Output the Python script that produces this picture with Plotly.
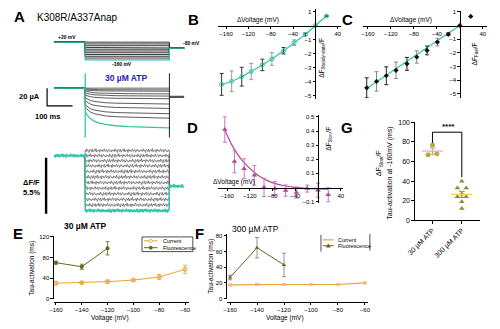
import plotly.graph_objects as go

# ================= DATA =================
# Panel A: voltage protocol (mV)
STEP_MV = [20, 2, -16, -34, -52, -70, -88, -106, -124, -142, -160]
PRE_MV = 20
TAIL_MV = -40
T_STEP_ON = 123    # ms
T_STEP_OFF = 454   # ms
T_END = 512        # ms

# Panel A: currents (uA)
I_START = [0, -1, -2, -3.5, -5.5, -8, -11, -14.5, -19, -22, -27]
I_END = [0, -2, -3.5, -6.5, -9, -12, -18, -23, -29, -34, -45]
I_TAIL = -10
I_CAP = [17, -56]
ACT_T = [0, 10, 20, 35, 55, 80, 120, 170, 230, 290, 331]
ACT_FRAC = [0, 0.25, 0.42, 0.58, 0.70, 0.79, 0.87, 0.92, 0.96, 0.985, 1.0]

# Panel A: fluorescence (dF/F, %)
F_STEP = [0.5, 0.0, -0.5, -1.0, -1.55, -2.1, -2.65, -3.2, -3.75, -4.3, -4.85, -5.4]
F_TAIL = -3.0
F_NOISE = [0.3, -0.5, 0.8, -0.2, 0.1, -0.9, 0.6, 0.2, -0.4, 0.7, -0.7, 0.0, 0.5,
           -0.3, 0.9, -0.6, 0.2, -0.1, 0.4, -0.8, 0.6, -0.2, 0.3, -0.5, 0.1, 0.8,
           -0.4, -0.1, 0.5, -0.7, 0.2, 0.6, -0.3, 0.0, -0.6, 0.4, -0.2]
SCALE_I = 20     # uA
SCALE_T = 100    # ms
SCALE_F = 5.5    # %

# Panel B: dF steady-state
B_DV = [-168, -150, -132, -115, -95, -78, -57, -38, -18, 0, 20]
B_DF = [-4.2, -3.98, -3.65, -3.28, -2.81, -2.39, -1.80, -1.22, -0.63, 0, 0.68]
B_ERR = [0.78, 0.74, 0.67, 0.58, 0.41, 0.45, 0.23, 0.2, 0.1, 0, 0]

# Panel C: dF fast
C_DV = [-162, -145, -128, -111, -92, -75, -57, -39, -20, 0, 19]
C_DF = [-4.55, -4.08, -3.67, -3.27, -2.80, -2.30, -1.82, -1.21, -0.64, 0, 0.66]
C_ERR = [0.73, 0.71, 0.65, 0.6, 0.47, 0.45, 0.32, 0.28, 0.1, 0, 0]
C_FIT_X = [-162, 2]
C_FIT_Y = [-4.6, 0.05]

# Panel D: dF slow
D_DV = [-164, -147, -130, -112, -95, -76, -57, -38, -19, 0, 18]
D_DF = [0.411, 0.184, 0.133, 0.087, 0.001, -0.008, -0.022, -0.036, -0.008, -0.02, -0.052]
D_ERR = [0.09, 0.08, 0.07, 0.07, 0.065, 0.05, 0.04, 0.04, 0.025, 0.05, 0.05]
D_FIT_X = [-164, -150, -135, -120, -105, -90, -75, -60, -40, -20, 0, 18]
D_FIT_Y = [0.41, 0.29, 0.20, 0.135, 0.085, 0.05, 0.027, 0.012, 0.0, -0.007, -0.01, -0.012]

# Panel E: 30 uM ATP
E_V = [-160, -140, -120, -100, -80, -60]
E_CUR = [30, 31, 33, 36, 42, 57]
E_CUR_ERR = [3, 2, 3, 2, 5, 8]
E_FL_V = [-160, -140, -120]
E_FL = [70, 62, 98]
E_FL_ERR = [3, 5, 13]

# Panel F: 300 uM ATP
F_V = [-160, -140, -120, -100, -80, -60]
F_CUR = [17.5, 18, 18, 18, 18, 20]
F_CUR_ERR = [1, 1, 1, 0.5, 0.5, 1]
F_FL_V = [-160, -140, -120]
F_FL = [27, 65, 43]
F_FL_ERR = [3, 13, 15]

# Panel G: tau at -160 mV
G_CATS = ["30 µM ATP", "300 µM ATP"]
G_30 = [77, 67, 68]
G_300 = [40, 33, 33, 27, 24, 24, 19, 12]
G_SIG = "****"

# ================= STYLE / LAYOUT =================
W, H = 500, 329
FONT = "Liberation Sans, Arial, sans-serif"
TEAL = "#2fc7a7"
ORANGE = "#e6a33a"
OLIVE = "#66661f"
MAG = "#b2479c"
G30C = "#b3ae45"
G300C = "#8f8c3c"


def dx(a, b):
    return [a / W, b / W]


def dy(top, bottom):
    return [1 - bottom / H, 1 - top / H]


def fx(x):
    return x / W


def fy(y):
    return 1 - y / H


fig = go.Figure()

# ---------- Panel A: protocol ----------
for i, v in enumerate(STEP_MV):
    col = TEAL if i == len(STEP_MV) - 1 else "#222"
    fig.add_trace(go.Scatter(
        x=[0, T_STEP_ON, T_STEP_ON, T_STEP_OFF, T_STEP_OFF, T_END],
        y=[PRE_MV, PRE_MV, v, v, TAIL_MV, TAIL_MV],
        mode="lines", line=dict(color=col, width=0.9 if col != TEAL else 1.2),
        xaxis="x", yaxis="y", showlegend=False, hoverinfo="skip"))

# ---------- Panel A: currents ----------
n_sw = len(I_START)
for i in range(n_sw):
    t = [0, T_STEP_ON]
    y = [0, 0]
    if i == n_sw - 1:
        t += [T_STEP_ON, T_STEP_ON]
        y += [I_CAP[0], I_CAP[1]]
    for tt, ff in zip(ACT_T, ACT_FRAC):
        t.append(T_STEP_ON + tt)
        y.append(I_START[i] + ff * (I_END[i] - I_START[i]))
    col = TEAL if i == n_sw - 1 else "#333"
    fig.add_trace(go.Scatter(
        x=t, y=y, mode="lines",
        line=dict(color=col, width=1.3 if i == n_sw - 1 else 0.8),
        xaxis="x2", yaxis="y2", showlegend=False, hoverinfo="skip"))
fig.add_trace(go.Scatter(x=[T_STEP_OFF, T_END], y=[I_TAIL, I_TAIL], mode="lines",
                         line=dict(color="#555", width=2.2), xaxis="x2", yaxis="y2",
                         showlegend=False, hoverinfo="skip"))
fig.add_trace(go.Scatter(x=[T_STEP_OFF, T_STEP_OFF], y=[I_CAP[0], I_CAP[1]], mode="lines",
                         line=dict(color="#222", width=1), xaxis="x2", yaxis="y2",
                         showlegend=False, hoverinfo="skip"))
SB_T0 = -27
fig.add_trace(go.Scatter(x=[SB_T0, SB_T0, SB_T0 + SCALE_T], y=[0, -SCALE_I, -SCALE_I],
                         mode="lines", line=dict(color="black", width=1.2),
                         xaxis="x2", yaxis="y2", showlegend=False, hoverinfo="skip"))

# ---------- Panel A: fluorescence ----------
NN = len(F_NOISE)
AMP = 0.22
DT = 3


def noisy(t0, t1, level, k0):
    ts, ys = [], []
    t = t0
    k = k0
    while t <= t1:
        ts.append(t)
        ys.append(level + AMP * F_NOISE[k % NN])
        t += DT
        k += 1
    return ts, ys, k


n_f = len(F_STEP)
for i in range(n_f):
    k0 = 7 * i
    if i < n_f - 1:
        ts, ys, k = noisy(T_STEP_ON, T_STEP_OFF, F_STEP[i], k0)
        ts = [T_STEP_ON] + ts + [T_STEP_OFF, T_STEP_OFF]
        ys = [0] + ys + [F_STEP[i], F_TAIL]
        fig.add_trace(go.Scatter(x=ts, y=ys, mode="lines",
                                 line=dict(color="#5e5e5e", width=0.7),
                                 xaxis="x3", yaxis="y3", showlegend=False, hoverinfo="skip"))
    else:
        t1, y1, k = noisy(0, T_STEP_ON, 0, k0)
        t2, y2, k = noisy(T_STEP_ON, T_STEP_OFF, F_STEP[i], k)
        t3, y3, k = noisy(T_STEP_OFF, T_END, F_TAIL, k)
        fig.add_trace(go.Scatter(x=t1 + [T_STEP_ON] + t2 + [T_STEP_OFF] + t3,
                                 y=y1 + [F_STEP[i]] + y2 + [F_TAIL] + y3, mode="lines",
                                 line=dict(color=TEAL, width=1.5),
                                 xaxis="x3", yaxis="y3", showlegend=False, hoverinfo="skip"))
FSB_T0 = -31
fig.add_trace(go.Scatter(x=[FSB_T0, FSB_T0], y=[-0.2, -0.2 - SCALE_F], mode="lines",
                         line=dict(color="black", width=2.4),
                         xaxis="x3", yaxis="y3", showlegend=False, hoverinfo="skip"))

# ---------- Panel B ----------
fig.add_trace(go.Scatter(x=B_DV, y=B_DF, mode="lines", line=dict(color=TEAL, width=1.2, shape="spline"),
                         xaxis="x4", yaxis="y4", showlegend=False, hoverinfo="skip"))
for par, col in ((0, "#333"), (1, "#999")):
    idx = [j for j in range(len(B_DV)) if j % 2 == par]
    fig.add_trace(go.Scatter(x=[B_DV[j] for j in idx], y=[B_DF[j] for j in idx], mode="markers",
                             marker=dict(symbol="circle-open", size=4, color=TEAL, line=dict(width=1, color=TEAL)),
                             error_y=dict(type="data", array=[B_ERR[j] for j in idx], color=col,
                                          thickness=1, width=2),
                             xaxis="x4", yaxis="y4", showlegend=False, hoverinfo="skip"))

# ---------- Panel C ----------
fig.add_trace(go.Scatter(x=C_FIT_X, y=C_FIT_Y, mode="lines", line=dict(color=TEAL, width=1.3),
                         xaxis="x5", yaxis="y5", showlegend=False, hoverinfo="skip"))
for par, col in ((0, "#222"), (1, "#888")):
    idx = [j for j in range(len(C_DV)) if j % 2 == par]
    fig.add_trace(go.Scatter(x=[C_DV[j] for j in idx], y=[C_DF[j] for j in idx], mode="markers",
                             marker=dict(symbol="diamond", size=4, color="#111"),
                             error_y=dict(type="data", array=[C_ERR[j] for j in idx], color=col,
                                          thickness=1, width=2),
                             xaxis="x5", yaxis="y5", showlegend=False, hoverinfo="skip"))

# ---------- Panel D ----------
fig.add_trace(go.Scatter(x=D_FIT_X, y=D_FIT_Y, mode="lines", line=dict(color=MAG, width=1.2, shape="spline"),
                         xaxis="x6", yaxis="y6", showlegend=False, hoverinfo="skip"))
fig.add_trace(go.Scatter(x=D_DV, y=D_DF, mode="markers",
                         marker=dict(symbol="triangle-up", size=5, color=MAG),
                         error_y=dict(type="data", array=D_ERR, color="#c978b8", thickness=1, width=2),
                         xaxis="x6", yaxis="y6", showlegend=False, hoverinfo="skip"))

# ---------- Panel G ----------
J30 = [0, -0.15, 0.15]
J300 = [0, -0.15, 0.15, 0, -0.15, 0.15, 0, 0]
fig.add_trace(go.Scatter(x=[0 + j for j in J30], y=G_30, mode="markers",
                         marker=dict(symbol="circle", size=5, color=G30C),
                         xaxis="x7", yaxis="y7", showlegend=False, hoverinfo="skip"))
fig.add_trace(go.Scatter(x=[1 + j for j in J300], y=G_300, mode="markers",
                         marker=dict(symbol="triangle-up", size=5, color=G300C),
                         xaxis="x7", yaxis="y7", showlegend=False, hoverinfo="skip"))
for xi, vals, col in ((0, G_30, G30C), (1, G_300, G300C)):
    m = sum(vals) / len(vals)
    sd = (sum((v - m) ** 2 for v in vals) / (len(vals) - 1)) ** 0.5
    sem = sd / len(vals) ** 0.5
    fig.add_trace(go.Scatter(x=[xi], y=[m], mode="markers",
                             marker=dict(symbol="line-ew-open", size=15, line=dict(width=1.3, color=col)),
                             error_y=dict(type="data", array=[sem], color=col, thickness=1, width=3),
                             xaxis="x7", yaxis="y7", showlegend=False, hoverinfo="skip"))

# ---------- Panel E ----------
fig.add_trace(go.Scatter(x=E_V, y=E_CUR, mode="lines+markers",
                         line=dict(color=ORANGE, width=1),
                         marker=dict(symbol="circle-open", size=4, color=ORANGE, line=dict(width=1, color=ORANGE)),
                         error_y=dict(type="data", array=E_CUR_ERR, color=ORANGE, thickness=0.8, width=2),
                         xaxis="x8", yaxis="y8", showlegend=False, hoverinfo="skip"))
fig.add_trace(go.Scatter(x=E_FL_V, y=E_FL, mode="lines+markers",
                         line=dict(color=OLIVE, width=1),
                         marker=dict(symbol="circle", size=4, color=OLIVE),
                         error_y=dict(type="data", array=E_FL_ERR, color=OLIVE, thickness=0.8, width=2),
                         xaxis="x8", yaxis="y8", showlegend=False, hoverinfo="skip"))

# ---------- Panel F ----------
fig.add_trace(go.Scatter(x=F_V, y=F_CUR, mode="lines+markers",
                         line=dict(color=ORANGE, width=1.2),
                         marker=dict(symbol="square", size=3, color="#f0c070"),
                         error_y=dict(type="data", array=F_CUR_ERR, color=ORANGE, thickness=0.8, width=2),
                         xaxis="x9", yaxis="y9", showlegend=False, hoverinfo="skip"))
fig.add_trace(go.Scatter(x=F_FL_V, y=F_FL, mode="lines+markers",
                         line=dict(color=OLIVE, width=1),
                         marker=dict(symbol="triangle-up", size=4, color=OLIVE),
                         error_y=dict(type="data", array=F_FL_ERR, color="#777", thickness=0.8, width=2),
                         xaxis="x9", yaxis="y9", showlegend=False, hoverinfo="skip"))

# ================= AXES =================
TF = dict(size=6, family=FONT, color="black")
AXL = dict(showline=True, linecolor="black", linewidth=1, showgrid=False, zeroline=False,
           ticks="outside", ticklen=2.5, tickwidth=1, tickcolor="black", tickfont=TF)
HID = dict(visible=False, showgrid=False, zeroline=False)

layout = dict(
    width=W, height=H, margin=dict(l=0, r=0, t=0, b=0), autosize=False,
    paper_bgcolor="white", plot_bgcolor="rgba(0,0,0,0)",
    font=dict(family=FONT, color="black"),
    showlegend=False,
    xaxis=dict(domain=dx(0, 185), range=[-180.8, 530.8], anchor="y", **HID),
    yaxis=dict(domain=dy(30, 62), range=[-210, 110], anchor="x", **HID),
    xaxis2=dict(domain=dx(0, 185), range=[-180.8, 530.8], anchor="y2", **HID),
    yaxis2=dict(domain=dy(66, 140), range=[-60, 22.2], anchor="x2", **HID),
    xaxis3=dict(domain=dx(0, 185), range=[-180.8, 530.8], anchor="y3", **HID),
    yaxis3=dict(domain=dy(145, 218), range=[-6.06, 0.96], anchor="x3", **HID),
    xaxis4=dict(domain=dx(215, 340), range=[-174, 45], anchor="free", position=fy(22),
                tickvals=[-160, -120, -80, -40, 40], **AXL),
    yaxis4=dict(domain=dy(5, 97), range=[-5.24, 1.19], anchor="free", position=fx(314),
                tickvals=[1, -1, -2, -3, -4, -5], **AXL),
    xaxis5=dict(domain=dx(363, 490), range=[-168.5, 47.7], anchor="free", position=fy(22),
                tickvals=[-160, -120, -80, -40, 40], **AXL),
    yaxis5=dict(domain=dy(7, 96), range=[-5.29, 1.07], anchor="free", position=fx(462),
                tickvals=[1, -1, -2, -3, -4, -5], **AXL),
    xaxis6=dict(domain=dx(215, 343), range=[-175.5, 44.7], anchor="free", position=fy(187.5),
                tickvals=[-160, -120, -80, -40, 40], **AXL),
    yaxis6=dict(domain=dy(113, 203), range=[-0.108, 0.517], anchor="free", position=fx(317),
                tickvals=[0.5, 0.4, 0.3, 0.2, 0.1, -0.1], **AXL),
    xaxis7=dict(domain=dx(416, 483), range=[-0.6, 1.633], anchor="y7",
                tickvals=[0, 1], ticktext=G_CATS, tickangle=-45, **AXL),
    yaxis7=dict(domain=dy(121, 221), range=[0, 100], anchor="x7",
                tickvals=[0, 20, 40, 60, 80, 100], **AXL),
    xaxis8=dict(domain=dx(47, 185), range=[-161.5, -57], anchor="free", position=fy(304),
                tickvals=E_V, **AXL),
    yaxis8=dict(domain=dy(237, 301), range=[0, 122], anchor="x8",
                tickvals=[0, 40, 80, 120], **AXL),
    xaxis9=dict(domain=dx(224, 368), range=[-162.2, -57.8], anchor="free", position=fy(304),
                tickvals=F_V, **AXL),
    yaxis9=dict(domain=dy(235, 301), range=[0, 82.5], anchor="x9",
                tickvals=[0, 20, 40, 60, 80], **AXL),
)
layout["xaxis7"]["tickfont"] = dict(size=7, family=FONT, color="black")
layout["yaxis7"]["tickfont"] = dict(size=7, family=FONT, color="black")
for k in ("xaxis8", "xaxis9"):
    layout[k]["ticklen"] = 2
fig.update_layout(**layout)


# ================= TEXT =================
def txt(x, y, s, size=7, color="black", xanchor="center", angle=0):
    return dict(x=fx(x), y=fy(y), xref="paper", yref="paper", text=s, showarrow=False,
                font=dict(size=size, color=color, family=FONT), xanchor=xanchor,
                yanchor="middle", textangle=angle)


ann = [
    txt(4, 13, "<b>A</b>", 15, xanchor="left"),
    txt(28, 14, "K308R/A337Anap", 10, xanchor="left"),
    txt(60, 34, "<b>+20 mV</b>", 5),
    txt(177, 40, "<b>-80 mV</b>", 5, xanchor="left"),
    txt(117, 61, "<b>-160 mV</b>", 5),
    txt(121, 76, "<b>30 µM ATP</b>", 8.5, color="#2323b8"),
    txt(22, 94, "<b>20 µA</b>", 7.5),
    txt(40, 115, "<b>100 ms</b>", 7.5),
    txt(24, 182, "<b>ΔF/F</b>", 7.5),
    txt(24, 193, "<b>5.5%</b>", 7.5),
    txt(190, 16, "<b>B</b>", 15),
    txt(347, 16, "<b>C</b>", 15),
    txt(189, 126, "<b>D</b>", 15),
    txt(347, 126, "<b>G</b>", 15),
    txt(10, 234, "<b>E</b>", 15),
    txt(196, 234, "<b>F</b>", 15),
    txt(256, 16, "ΔVoltage (mV)", 6.5),
    txt(412, 16, "ΔVoltage (mV)", 6.5),
    txt(231, 182, "ΔVoltage (mV)", 6.5),
    txt(321, 55, "ΔF<sub>Steady-state</sub>/F", 6.5, angle=-90),
    txt(477, 51, "ΔF<sub>Fast</sub>/F", 6.5, angle=-90),
    txt(328, 138, "ΔF<sub>Slow</sub>/F", 6.5, angle=-90),
    txt(379, 163, "ΔF<sub>Slow</sub>/F", 7, angle=-90),
    txt(391, 173, "Tau-activation at -160mV (ms)", 7, angle=-90),
    txt(450, 125, "<b>****</b>", 8),
    txt(79, 227, "<b>30 µM ATP</b>", 8.5),
    txt(253, 230, "300 µM ATP", 8.5),
    txt(25, 270, "Tau-activation (ms)", 6.5, angle=-90),
    txt(208, 268, "Tau-activation (ms)", 6.5, angle=-90),
    txt(104, 321, "Voltage (mV)", 6.5),
    txt(283, 321, "Voltage (mV)", 6.5),
    txt(156, 242, "Current", 5.5, xanchor="left"),
    txt(156, 249, "Fluorescence", 5.5, xanchor="left"),
    txt(335, 241, "Current", 5.5, xanchor="left"),
    txt(335, 247, "Fluorescence", 5.5, xanchor="left"),
]
fig.update_layout(annotations=ann)


def pline(x0, y0, x1, y1, col="black", w=1):
    return dict(type="line", xref="paper", yref="paper", x0=fx(x0), y0=fy(y0), x1=fx(x1), y1=fy(y1),
                line=dict(color=col, width=w))


def pcirc(x, y, r, col, fill):
    return dict(type="circle", xref="paper", yref="paper", x0=fx(x - r), x1=fx(x + r),
                y0=fy(y + r), y1=fy(y - r), line=dict(color=col, width=0.8), fillcolor=fill)


shapes = [
    dict(type="path", xref="x7", yref="y7", path="M 0,79 L 0,90 L 1,90 L 1,44",
         line=dict(color="black", width=1)),
    dict(type="rect", xref="paper", yref="paper", x0=fx(137), x1=fx(189), y0=fy(253), y1=fy(238),
         line=dict(color="black", width=0.7)),
    pline(139, 242, 153, 242, ORANGE, 1),
    pcirc(146, 242, 1.6, ORANGE, "white"),
    pline(139, 249, 153, 249, OLIVE, 1),
    pcirc(146, 249, 1.6, OLIVE, OLIVE),
    pline(320, 236, 320, 253, "black", 0.7),
    pline(370, 235, 370, 252, "black", 0.7),
    pline(322, 241, 333, 241, ORANGE, 1.2),
    pline(322, 247, 333, 247, OLIVE, 1),
    dict(type="path", xref="paper", yref="paper",
         path=f"M {fx(325.5)},{fy(248.5)} L {fx(329.5)},{fy(248.5)} L {fx(327.5)},{fy(245)} Z",
         line=dict(color=OLIVE, width=0.5), fillcolor=OLIVE),
]
fig.update_layout(shapes=shapes)

fig.write_html("out.html")
